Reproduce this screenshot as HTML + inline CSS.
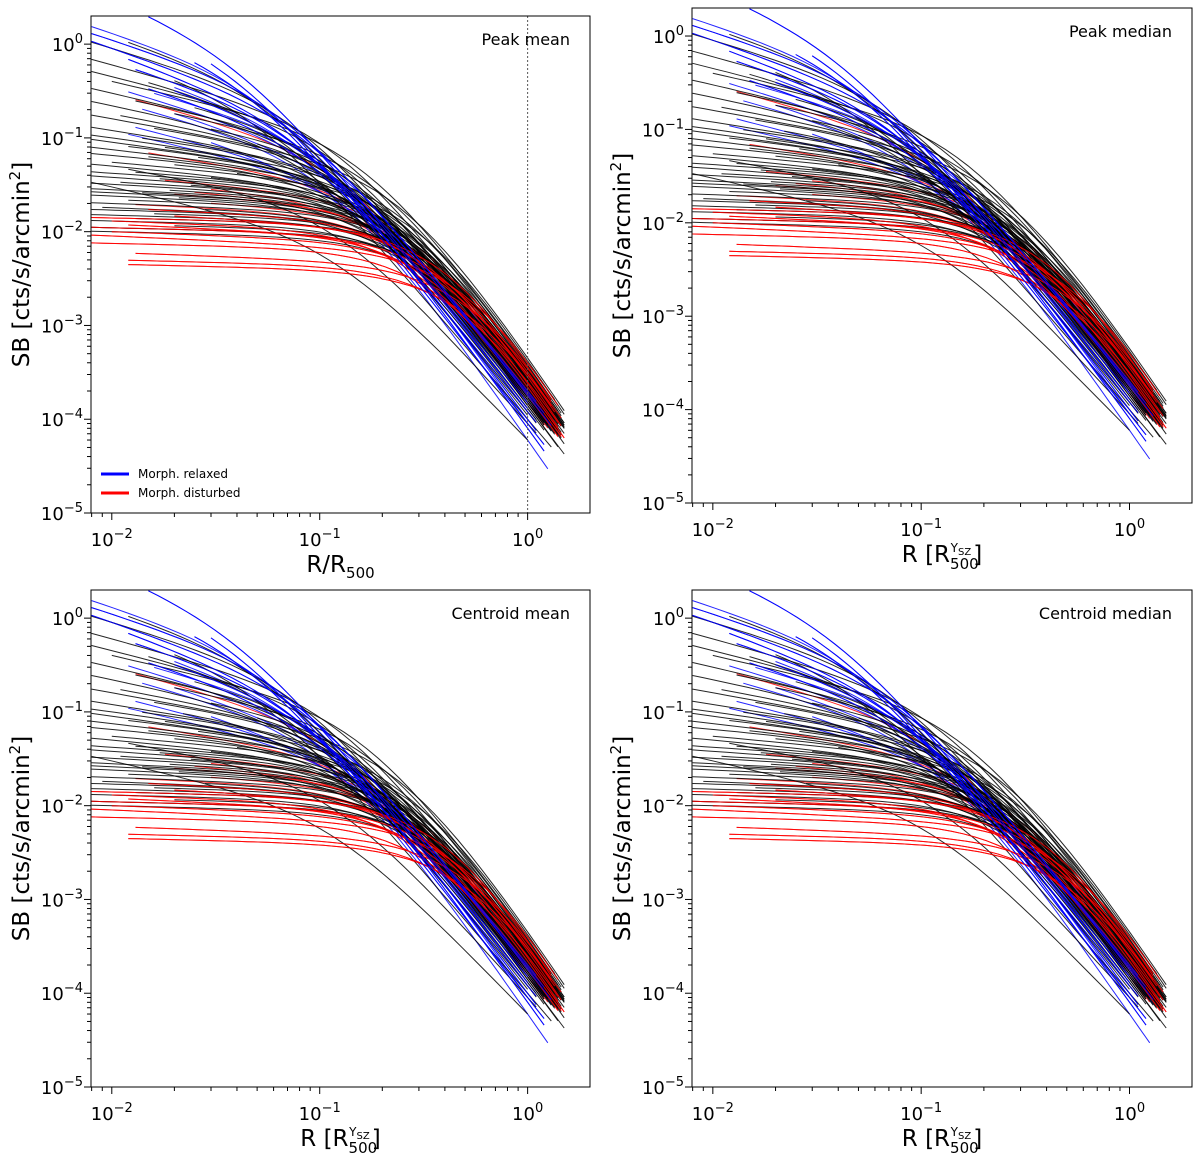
<!DOCTYPE html>
<html><head><meta charset="utf-8">
<style>
html,body{margin:0;padding:0;background:#fff;}
svg{display:block;font-family:"DejaVu Sans","Liberation Sans",sans-serif;}
</style></head>
<body>
<svg id="fig" width="1200" height="1161" viewBox="0 0 1200 1161" xmlns="http://www.w3.org/2000/svg"></svg>
<script>
// ---- data: profile parameters (value at r=0.01, value at r=1, cusp slope, outer beta, radial extent) ----
const blueS0   = [3.0,2.2,1.6,1.1,0.9,0.8,0.65,0.55,0.45,0.35,0.3,0.25,0.2,0.15,0.12,0.6,0.4,1.3];
const blueS1   = [1.5e-4,1.2e-4,9e-5,2e-4,1.8e-4,8e-5,1.3e-4,1.9e-4,1e-4,1.6e-4,2.2e-4,6e-5,1.3e-4,2e-4,1.7e-4,9e-5,2.6e-4,1.5e-4];
const blueAlpha= [0.9,0.85,0.8,0.7,0.75,0.8,0.7,0.75,0.7,0.65,0.7,0.6,0.7,0.55,0.5,0.75,0.6,0.7];
const blueRmin = [0.015,0.03,0.025,0.008,0.008,0.012,0.013,0.02,0.015,0.012,0.02,0.014,0.03,0.013,0.012,0.02,0.016,0.008];
const blueRmax = [1.0,1.1,1.2,1.1,1.3,1.2,1.0,1.2,1.1,1.3,1.2,1.25,1.1,1.2,1.3,1.0,1.2,1.1];
const blueBeta = [0.62,0.62,0.64,0.62,0.64,0.68,0.64,0.62,0.66,0.64,0.62,0.7,0.64,0.62,0.64,0.68,0.62,0.62];

const redS0   = [0.0045,0.005,0.006,0.0075,0.009,0.01,0.011,0.012,0.013,0.014,0.016,0.018,0.02,0.024,0.028,0.032,0.036,0.04,0.08,0.3];
const redS1   = [3e-4,2.5e-4,3.5e-4,2e-4,4e-4,3e-4,2.2e-4,3.2e-4,1.8e-4,2.8e-4,3.6e-4,2.4e-4,2e-4,3e-4,2.6e-4,2.2e-4,1.6e-4,2.8e-4,2e-4,1.5e-4];
const redAlpha= [0.05,0.05,0.08,0.05,0.1,0.08,0.05,0.1,0.08,0.05,0.12,0.1,0.1,0.15,0.15,0.2,0.2,0.2,0.35,0.6];
const redRmin = [0.012,0.012,0.013,0.008,0.008,0.01,0.008,0.012,0.01,0.008,0.02,0.015,0.013,0.03,0.02,0.025,0.03,0.018,0.015,0.013];
const redRmax = [1.45,1.4,1.3,1.45,1.4,1.35,1.5,1.3,1.4,1.45,1.3,1.4,1.35,1.45,1.3,1.4,1.25,1.35,1.3,1.2];
const redBeta = [0.75,0.75,0.78,0.72,0.8,0.75,0.72,0.78,0.7,0.75,0.8,0.74,0.72,0.76,0.74,0.72,0.7,0.75,0.7,0.68];

const blackS0   = [1.2,0.9,0.7,0.6,0.5,0.45,0.4,0.35,0.3,0.28,0.25,0.22,0.2,0.18,0.16,0.15,0.13,0.12,0.11,0.1,
                   0.095,0.09,0.085,0.08,0.075,0.07,0.065,0.06,0.055,0.05,0.048,0.045,0.042,0.04,0.038,0.036,0.034,0.032,0.03,0.028,
                   0.027,0.026,0.025,0.024,0.022,0.02,0.019,0.018,0.017,0.016,0.015,0.014,0.013,0.012,0.011,0.01,0.03,0.05,0.07,0.2];
const blackS1   = [1.5e-4,2e-4,1e-4,3e-4,1.2e-4,2.5e-4,4e-4,1.8e-4,1.4e-4,2.2e-4,3.5e-4,1.1e-4,2.6e-4,1.7e-4,4.5e-4,2e-4,1.3e-4,3e-4,2.4e-4,1.6e-4,
                   3.8e-4,2.1e-4,1.5e-4,2.8e-4,1.9e-4,3.3e-4,1.2e-4,2.3e-4,4.2e-4,1.7e-4,2.7e-4,1.4e-4,3.1e-4,2e-4,1.6e-4,3.6e-4,2.5e-4,1.8e-4,2.9e-4,2.2e-4,
                   1.5e-4,3.4e-4,2.4e-4,1.9e-4,2.8e-4,3.2e-4,2.1e-4,1.7e-4,2.6e-4,3e-4,2.3e-4,3.7e-4,2e-4,2.7e-4,3.3e-4,2.5e-4,6e-5,9e-5,3e-4,2e-4];
const blackAlpha= [0.7,0.65,0.6,0.6,0.55,0.55,0.5,0.5,0.5,0.45,0.45,0.45,0.4,0.4,0.4,0.35,0.35,0.35,0.3,0.3,
                   0.3,0.3,0.25,0.25,0.25,0.25,0.2,0.2,0.2,0.2,0.2,0.15,0.15,0.15,0.15,0.15,0.12,0.12,0.12,0.1,
                   0.1,0.1,0.1,0.1,0.08,0.08,0.08,0.08,0.06,0.06,0.06,0.05,0.05,0.05,0.05,0.05,0.5,0.4,0.35,0.45];
const blackRmin = [0.012,0.008,0.02,0.008,0.015,0.008,0.01,0.025,0.008,0.013,0.02,0.008,0.03,0.011,0.008,0.016,0.022,0.008,0.014,0.008,
                   0.018,0.008,0.012,0.026,0.008,0.015,0.008,0.02,0.01,0.008,0.03,0.013,0.008,0.017,0.008,0.024,0.011,0.008,0.019,0.008,
                   0.014,0.008,0.021,0.008,0.012,0.008,0.028,0.009,0.008,0.016,0.008,0.013,0.008,0.02,0.008,0.008,0.008,0.012,0.04,0.05];
const blackRmax = [1.2,1.4,1.3,1.5,1.1,1.45,1.35,1.2,1.5,1.3,1.4,1.0,1.45,1.25,1.5,1.35,1.2,1.4,1.5,1.3,
                   1.45,1.35,1.2,1.5,1.4,1.3,1.1,1.45,1.5,1.35,1.25,1.4,1.5,1.3,1.2,1.45,1.4,1.35,1.5,1.3,
                   1.2,1.45,1.4,1.5,1.35,1.3,1.45,1.25,1.4,1.5,1.35,1.3,1.45,1.4,1.5,1.35,1.0,1.1,1.5,1.4];
const blackBeta = [0.62,0.64,0.6,0.66,0.62,0.66,0.68,0.64,0.66,0.66,0.7,0.64,0.68,0.66,0.72,0.68,0.66,0.7,0.68,0.66,
                   0.72,0.7,0.68,0.7,0.68,0.72,0.66,0.7,0.74,0.68,0.7,0.68,0.72,0.7,0.68,0.74,0.7,0.7,0.72,0.7,
                   0.68,0.74,0.72,0.7,0.72,0.74,0.7,0.7,0.72,0.74,0.72,0.76,0.72,0.74,0.76,0.74,0.55,0.58,0.7,0.68];

const xTickLabels = ["-2","-1","0"];
const yTickLabels = ["0","-1","-2","-3","-4","-5"];

const panelTitles = ["Peak mean","Peak median","Centroid mean","Centroid median"];
const panelBoxes = [[91,16,590,513],[692,8,1192,503],[91,590,590,1087],[692,590,1192,1087]];
const X0=-2.1, X1=0.3, Y0=-5, Y1=0.3;

const NS="http://www.w3.org/2000/svg";
const fig=document.getElementById('fig');
function el(tag,attrs,parent){const e=document.createElementNS(NS,tag);for(const k in attrs)e.setAttribute(k,attrs[k]);(parent||fig).appendChild(e);return e;}

function shapeLog(r,rc,a,beta){
  const x=r/rc; const p=3*beta-0.5-a/2;
  return -a*Math.log(x) - p*Math.log(1+x*x);
}
function makeProfile(s0,s1,a,beta){
  const target=Math.log(s0/s1);
  let lo=-4,hi=2;
  for(let it=0;it<60;it++){
    const mid=(lo+hi)/2; const rc=Math.pow(10,mid);
    const g=shapeLog(0.01,rc,a,beta)-shapeLog(1,rc,a,beta);
    // g decreases as rc grows
    if(g>target) lo=mid; else hi=mid;
  }
  const rc=Math.pow(10,(lo+hi)/2);
  const lnA=Math.log(s1)-shapeLog(1,rc,a,beta);
  return r=>Math.exp(lnA+shapeLog(r,rc,a,beta));
}

panelBoxes.forEach((b,pi)=>{
  const [L,T,R,B]=b;
  const g=el('g',{});
  
  
  const sx=v=>L+(Math.log10(v)-X0)/(X1-X0)*(R-L);
  const sy=v=>B-(Math.log10(v)-Y0)/(Y1-Y0)*(B-T);
  const cid='clip'+pi;
  const cp=el('clipPath',{id:cid},g);el('rect',{x:L,y:T,width:R-L,height:B-T},cp);
  const lg=el('g',{'clip-path':'url(#'+cid+')'},g);
  
  
  function draw(s0a,s1a,al,rmin,rmax,beta,color,name){
    for(let i=0;i<s0a.length;i++){
      const f=makeProfile(s0a[i],s1a[i],al[i],beta[i]);
      const pts=[];const n=40;
      const a=Math.log10(rmin[i]),c=Math.log10(rmax[i]);
      for(let k=0;k<=n;k++){const r=Math.pow(10,a+(c-a)*k/n);pts.push(sx(r).toFixed(1)+','+sy(f(r)).toFixed(1));}
      const pl=el('polyline',{points:pts.join(' '),fill:'none',stroke:color,'stroke-width':1,'stroke-opacity':0.85},lg);
      
      
    }
  }
  draw(redS0,redS1,redAlpha,redRmin,redRmax,redBeta,'#ff0000','disturbed');
  draw(blueS0,blueS1,blueAlpha,blueRmin,blueRmax,blueBeta,'#0000ff','relaxed');
  draw(blackS0,blackS1,blackAlpha,blackRmin,blackRmax,blackBeta,'#000000','cluster');
  draw(redS0.slice(0,12),redS1.slice(0,12),redAlpha.slice(0,12),redRmin.slice(0,12),redRmax.slice(0,12),redBeta.slice(0,12),'#ff0000','disturbed');
  draw(blueS0.slice(0,9),blueS1.slice(0,9),blueAlpha.slice(0,9),blueRmin.slice(0,9),blueRmax.slice(0,9),blueBeta.slice(0,9),'#0000ff','relaxed');
  if(pi===0){
    const vl=el('line',{x1:sx(1),x2:sx(1),y1:T,y2:B,stroke:'#555','stroke-width':1,'stroke-dasharray':'2,2'},g);
    
    
  }
  const fr=el('rect',{x:L,y:T,width:R-L,height:B-T,fill:'none',stroke:'#000','stroke-width':1},g);
  
  
  for(let d=-3;d<=0;d++){for(let m=1;m<10;m++){const v=m*Math.pow(10,d);const lv=Math.log10(v);if(lv<X0||lv>X1)continue;
    const x=sx(v);el('line',{x1:x,x2:x,y1:B,y2:B+(m===1?7:4),stroke:'#000','stroke-width':1},g);}}
  xTickLabels.forEach(t=>{const x=sx(Math.pow(10,+t));const tx=el('text',{x:x,y:B+33,'font-size':18,'text-anchor':'middle'},g);
    
    
    tx.innerHTML='10<tspan dy="-8" font-size="13">'+(t.startsWith('-')?'\u2212'+t.slice(1):t)+'</tspan>';});
  for(let d=-5;d<=0;d++){for(let m=1;m<10;m++){const v=m*Math.pow(10,d);const lv=Math.log10(v);if(lv<Y0||lv>Y1)continue;
    const y=sy(v);el('line',{x1:L,x2:L-(m===1?7:4),y1:y,y2:y,stroke:'#000','stroke-width':1},g);}}
  yTickLabels.forEach(t=>{const y=sy(Math.pow(10,+t));const tx=el('text',{x:L-8,y:y+7,'font-size':18,'text-anchor':'end'},g);
    
    
    const sup=(t.startsWith('-')?'\u2212'+t.slice(1):t);
    tx.innerHTML='10<tspan dy="-8" font-size="13">'+sup+'</tspan>'+(t==='0'?'<tspan> </tspan>':'');});
  const tt=el('text',{x:R-20,y:T+29,'font-size':16,'text-anchor':'end'},g);
  
  
  tt.textContent=panelTitles[pi];
  const yl=el('text',{x:0,y:0,'font-size':23,'text-anchor':'middle',transform:'translate('+(L-62)+','+((T+B)/2)+') rotate(-90)'},g);
  
  
  yl.innerHTML='SB [cts/s/arcmin<tspan dy="-9" font-size="15">2</tspan><tspan dy="9">]</tspan>';
  const xl=el('text',{x:(L+R)/2,y:B+59,'font-size':23,'text-anchor':'middle'},g);
  
  
  if(pi===0){xl.innerHTML='R/R<tspan dy="6" font-size="15">500</tspan>';}
  else{xl.innerHTML='R [R<tspan dy="7" font-size="15">500</tspan><tspan dx="-28" dy="-17" font-size="12">Y</tspan><tspan dy="3" font-size="10">SZ</tspan><tspan dy="7" dx="2">]</tspan>';}
  if(pi===0){
    const leg=el('g',{},g);
    
    
    [['#0000ff','Morph. relaxed',474],['#ff0000','Morph. disturbed',493]].forEach(([c,t,y])=>{
      el('line',{x1:101,x2:129,y1:y,y2:y,stroke:c,'stroke-width':3},leg);
      const lt=el('text',{x:138,y:y+4,'font-size':12},leg);
      
      
      lt.textContent=t;});
  }
});
</script>
</body></html>
